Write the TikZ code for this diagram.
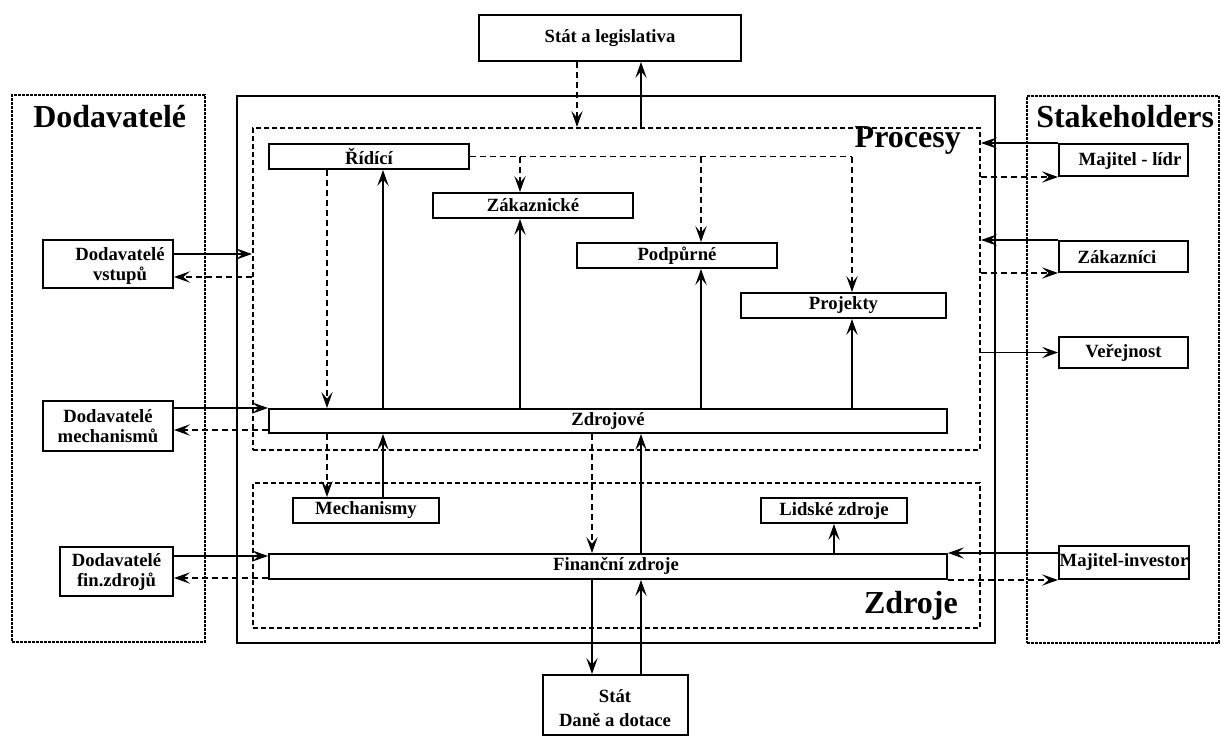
\documentclass[tikz,border=0pt]{standalone}
\usepackage{fontspec}
\setmainfont{Liberation Serif}
\usetikzlibrary{arrows.meta}
\tikzset{
 box/.style={draw, line width=1.5pt, inner sep=0pt, font=\bfseries\fontsize{14}{15}\selectfont, align=center},
 frame/.style={draw, line width=1.5pt, inner sep=0pt},
 dashframe/.style={draw, line width=1.6pt, dash pattern=on 3.5pt off 2.5pt, inner sep=0pt},
 dotframe/.style={draw, line width=1.5pt, dash pattern=on 2pt off 1pt, inner sep=0pt},
 conn/.style={line width=0.8pt, -{Stealth[length=12pt,width=8.5pt,inset=5pt]}},
 dconn/.style={conn, dash pattern=on 4.5pt off 3pt},
 title/.style={font=\bfseries\fontsize{24}{28}\selectfont, inner sep=0pt},
 lbl/.style={font=\bfseries\fontsize{14}{15}\selectfont, align=center, inner sep=0pt},
}
\newcommand{\mybox}[7][box]{\node[#1, minimum width={(#5-#3)*0.75pt}, minimum height={(#6-#4)*0.75pt}] (#2) at ({(#3+#5)/2},{(#4+#6)/2}) {#7};}
\begin{document}
\begin{tikzpicture}[x=0.75pt,y=-0.75pt]
\useasboundingbox (0,0) rectangle (1221,736);
% frames
\mybox[frame]{mainbox}{237}{96}{995}{643}{}
\mybox[dashframe]{procbox}{253}{128}{980}{450}{}
\mybox[dashframe]{zdrbox}{253}{483}{980}{628}{}
\mybox[dotframe]{dodbox}{12}{95}{205}{642}{}
\mybox[dotframe]{stkbox}{1027}{96}{1219}{643}{}
% titles
\node[title, anchor=base west] (tdod) at (33,127) {Dodavatelé};
\node[title, anchor=base west] (tstk) at (1036,127) {Stakeholders};
\node[title, anchor=base east] (tproc) at (961,147) {Procesy};
\node[title, anchor=base east] (tzdr) at (958,613) {Zdroje};
% boxes
\mybox{sl}{479}{15}{741}{61}{Stát a legislativa}
\mybox{rid}{269}{144}{469}{169}{Řídící}
\mybox{zak}{433}{193}{633}{218}{Zákaznické}
\mybox{pod}{577}{243}{777}{268}{Podpůrné}
\mybox{proj}{741}{293}{946}{318}{Projekty}
\mybox{zdroj}{269}{409}{947}{433}{Zdrojové}
\mybox{mech}{293}{498}{439}{523}{Mechanismy}
\mybox{lid}{761}{498}{907}{523}{Lidské zdroje}
\mybox{fin}{269}{554}{947}{579}{}
\node[lbl] (fint) at (616,566) {Finanční zdroje};
\mybox{stat}{543}{675}{688}{735}{}
\node[lbl, font=\bfseries\fontsize{14}{18}\selectfont] (statt) at (615,708) {Stát\\Daně a dotace};
\mybox{dv}{43}{240}{173}{288}{}
\node[lbl] (dvt) at (120,266) {Dodavatelé\\vstupů};
\mybox{dm}{43}{401}{173}{451}{Dodavatelé\\mechanismů}
\mybox{df}{60}{547}{173}{596}{Dodavatelé\\fin.zdrojů}
\mybox{ml}{1059}{144}{1188}{176}{}
\node[lbl] (mlt) at (1130,161) {Majitel - lídr};
\mybox{zk}{1059}{241}{1188}{272}{}
\node[lbl] (zkt) at (1117,257) {Zákazníci};
\mybox{ve}{1059}{337}{1188}{368}{Veřejnost}
\mybox{mi}{1059}{546}{1189}{579}{Majitel-investor}
% column / row helpers
\coordinate (c327) at (327,0);
\coordinate (c383) at (383,0);
\coordinate (c520) at (520,0);
\coordinate (c577) at (577,0);
\coordinate (c592) at (592,0);
\coordinate (c641) at (641,0);
\coordinate (c701) at (701,0);
\coordinate (c834) at (834,0);
\coordinate (c852) at (852,0);
\coordinate (r254) at (0,254);
\coordinate (r277) at (0,277);
\coordinate (r430) at (0,430);
\coordinate (r556) at (0,556);
\coordinate (r578) at (0,578);
% state & legislation
\draw[dconn] (sl.south -| c577) -- (procbox.north -| c577);
\draw[conn] (procbox.north -| c641) -- (sl.south -| c641);
% left suppliers
\draw[conn] (dv.east |- r254) -- (procbox.west |- r254);
\draw[dconn] (procbox.west |- r277) -- (dv.east |- r277);
\draw[conn] (dm.east |- zdroj.north west) -- (zdroj.north west);
\draw[dconn] (zdroj.west |- r430) -- (dm.east |- r430);
\draw[conn] (df.east |- r556) -- (zdroj.west |- r556);
\draw[dconn] (fin.west |- r578) -- (df.east |- r578);
% right stakeholders
\draw[conn] (ml.north west) -- (procbox.east |- ml.north west);
\draw[dconn] (procbox.east |- ml.south west) -- (ml.south west);
\draw[conn] (zk.north west) -- (procbox.east |- zk.north west);
\draw[dconn] (procbox.east |- zk.south west) -- (zk.south west);
\draw[conn] (procbox.east |- ve.west) -- (ve.west);
\draw[conn] (mi.west |- fin.north east) -- (fin.north east);
\draw[dconn] (fin.south east) -- (mi.west |- fin.south east);
% management
\draw[dconn, -] (rid.east) -- (c852 |- rid.east);
\draw[dconn] (c520 |- rid.east) -- (zak.north -| c520);
\draw[dconn] (c701 |- rid.east) -- (pod.north -| c701);
\draw[dconn] (c852 |- rid.east) -- (proj.north -| c852);
\draw[dconn] (rid.south -| c327) -- (zdroj.north -| c327);
\draw[conn] (zdroj.north -| c383) -- (rid.south -| c383);
\draw[conn] (zdroj.north -| c520) -- (zak.south -| c520);
\draw[conn] (zdroj.north -| c701) -- (pod.south -| c701);
\draw[conn] (zdroj.north -| c852) -- (proj.south -| c852);
% resources
\draw[dconn] (zdroj.south -| c327) -- (mech.north -| c327);
\draw[conn] (mech.north -| c383) -- (zdroj.south -| c383);
\draw[dconn] (zdroj.south -| c592) -- (fin.north -| c592);
\draw[conn] (fin.north -| c641) -- (zdroj.south -| c641);
\draw[conn] (fin.north -| c834) -- (lid.south -| c834);
\draw[conn] (fin.south -| c592) -- (stat.north -| c592);
\draw[conn] (stat.north -| c641) -- (fin.south -| c641);
\end{tikzpicture}
\end{document}
